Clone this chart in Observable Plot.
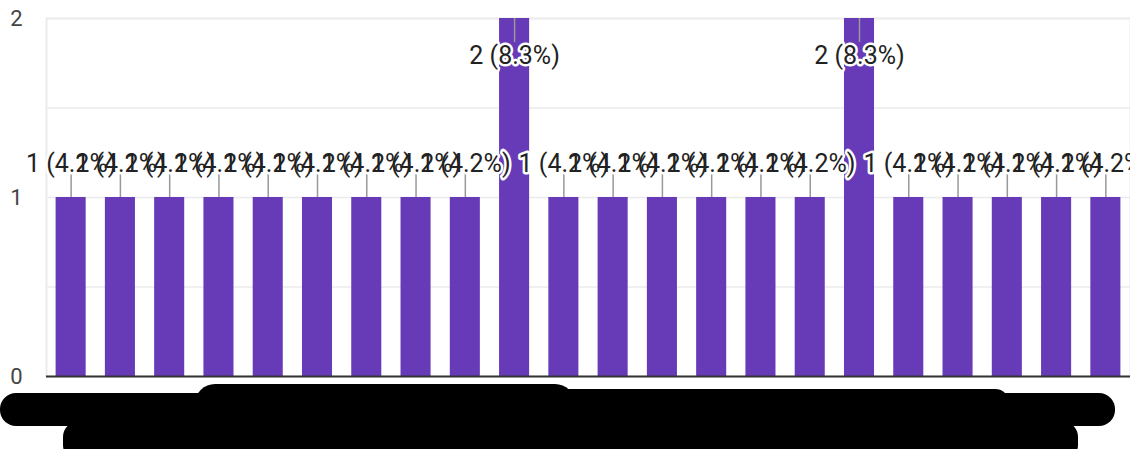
<!DOCTYPE html>
<html>
<head>
<meta charset="utf-8">
<script src="https://cdn.jsdelivr.net/npm/d3@7"></script>
<script src="https://cdn.jsdelivr.net/npm/@observablehq/plot@0.6"></script>
<style>
  html, body { margin: 0; padding: 0; background: #fff; }
  #wrap { position: relative; width: 1137px; height: 449px; overflow: hidden; background: #fff; }
  #wrap svg { display: block; overflow: hidden; }
  .redact { position: absolute; background: #000; }
</style>
</head>
<body>
<div id="wrap"></div>
<script>
// Categories (x-axis labels are redacted in the reference; placeholders used)
const categories = ["C01","C02","C03","C04","C05","C06","C07","C08","C09","C10","C11",
                    "C12","C13","C14","C15","C16","C17","C18","C19","C20","C21","C22"];
// Response counts per category
const counts = [1,1,1,1,1,1,1,1,1,2,1,1,1,1,1,1,2,1,1,1,1,1];
// Y tick labels
const yTicks = [0, 1, 2];
const yGrid = [0.5, 1, 1.5, 2];

const total = d3.sum(counts);
const data = categories.map((c, i) => ({
  cat: c,
  value: counts[i],
  label: `${counts[i]} (${(counts[i] / total * 100).toFixed(1)}%)`
}));
const maxV = d3.max(counts);
const small = data.filter(d => d.value < maxV);
const tall = data.filter(d => d.value === maxV);

const FONT = "Roboto, Arial, sans-serif";
const purple = "#673ab7";

const chart = Plot.plot({
  width: 1130,
  height: 449,
  marginLeft: 46,
  marginRight: 0,
  marginTop: 18,
  marginBottom: 73,
  style: { fontFamily: FONT, background: "#fff", overflow: "hidden" },
  x: { domain: categories, paddingInner: 0.39, paddingOuter: 0.195, round: false, axis: null },
  y: { domain: [0, 2], axis: null },
  marks: [
    Plot.gridY(yGrid, { stroke: "#ebebeb", strokeOpacity: 1, strokeWidth: 1.5 }),
    Plot.frame({ stroke: "#ececec", strokeWidth: 2 }),
    // y tick labels
    Plot.text(yTicks, { y: d => d, text: d => String(d), frameAnchor: "left", textAnchor: "end", dx: -24, fontSize: 22, fill: "#444" }),
    Plot.barY(data, { x: "cat", y: "value", fill: purple }),
    Plot.ruleY([0], { stroke: "#333", strokeWidth: 2 }),
    // leader lines
    Plot.ruleX(small, { x: "cat", y1: "value", y2: "value", insetTop: 0, insetBottom: 23, stroke: "#999", strokeWidth: 1.5 }),
    Plot.ruleX(tall, { x: "cat", y1: "value", y2: "value", insetTop: 24, insetBottom: 0, stroke: "#999", strokeWidth: 1.5 }),
    // halos (drawn beneath all label text)
    Plot.text(small, { x: "cat", y: "value", text: "label", dy: -34, fontSize: 25, fill: "#fff", stroke: "#fff", strokeWidth: 5 }),
    Plot.text(tall, { x: "cat", y: "value", text: "label", dy: 37, fontSize: 25, fill: "#fff", stroke: "#fff", strokeWidth: 5 }),
    // label text
    Plot.text(small, { x: "cat", y: "value", text: "label", dy: -34, fontSize: 25, fill: "#222" }),
    Plot.text(tall, { x: "cat", y: "value", text: "label", dy: 37, fontSize: 25, fill: "#222" })
  ]
});

const wrap = document.getElementById("wrap");
wrap.appendChild(chart);

// Redaction scribbles covering the x-axis labels (as in the reference)
const blobs = [
  { left: 0,   top: 393, width: 1115, height: 33, r: 16 },
  { left: 195, top: 384, width: 380,  height: 40, r: 20 },
  { left: 540, top: 389, width: 470,  height: 30, r: 15 },
  { left: 63,  top: 421, width: 1015, height: 40, r: 16 }
];
for (const b of blobs) {
  const el = document.createElement("div");
  el.className = "redact";
  Object.assign(el.style, {
    left: b.left + "px", top: b.top + "px",
    width: b.width + "px", height: b.height + "px",
    borderRadius: b.r + "px"
  });
  wrap.appendChild(el);
}
</script>
</body>
</html>
